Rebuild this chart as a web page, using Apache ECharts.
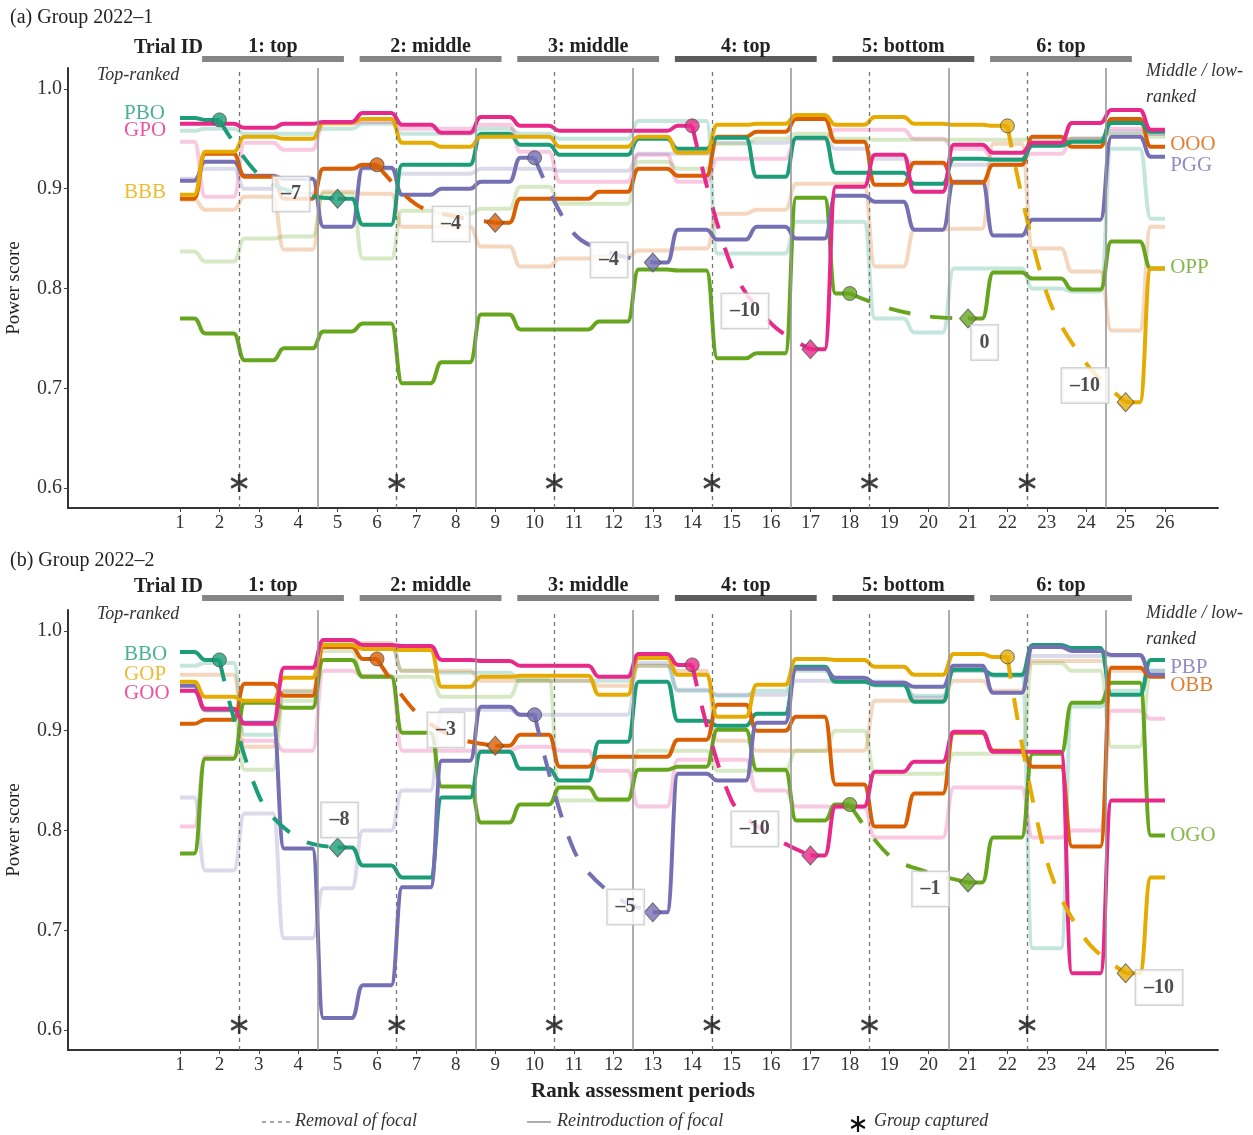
<!DOCTYPE html>
<html><head><meta charset="utf-8">
<script src="https://cdn.jsdelivr.net/npm/echarts@6/dist/echarts.min.js"></script>
<style>html,body{margin:0;padding:0;background:#fff}#c{width:1253px;height:1135px}</style>
</head><body><div id="c"></div>
<script>
// ---------------- DATA ----------------
const periods = [1,2,3,4,5,6,7,8,9,10,11,12,13,14,15,16,17,18,19,20,21,22,23,24,25,26];
const yTicks = [0.6,0.7,0.8,0.9,1.0];
const removalAt = [2.5,6.5,10.5,14.5,18.5,22.5];
const reintroAt = [4.5,8.5,12.5,16.5,20.5,24.5];
const trialLabels = ['1: top','2: middle','3: middle','4: top','5: bottom','6: top'];
const capturedAt = [2.5,6.5,10.5,14.5,18.5,22.5];

// Panel (a) Group 2022-1 : bold individuals (null = focal removed)
const a_PBO = [0.971,0.969,null,null,0.890,0.864,0.924,0.924,0.955,0.944,0.934,0.934,0.950,0.940,0.951,0.912,0.951,0.916,0.916,0.905,0.930,0.929,0.943,0.947,0.966,0.957];
const a_GPO = [0.965,0.965,0.961,0.965,0.967,0.976,0.964,0.956,0.972,0.963,0.958,0.958,0.958,0.963,null,null,0.739,0.902,0.934,0.897,0.944,0.936,0.946,0.966,0.979,0.959];
const a_BBB = [0.894,0.937,0.952,0.950,0.966,0.970,0.946,0.942,0.952,0.952,0.942,0.942,0.952,0.936,0.964,0.965,0.974,0.964,0.972,0.965,0.964,0.963,null,null,0.686,0.820];
const a_OOO = [0.890,0.935,0.912,0.890,0.920,0.924,null,null,0.866,0.890,0.890,0.897,0.920,0.913,0.952,0.957,0.970,0.947,0.904,0.926,0.906,0.924,0.952,0.942,0.970,0.942];
const a_PGG = [0.908,0.927,0.913,0.910,0.862,0.921,0.894,0.900,0.907,0.931,null,null,0.826,0.859,0.849,0.862,0.850,0.893,0.887,0.859,0.907,0.853,0.869,0.869,0.952,0.932];
const a_OPP = [0.770,0.755,0.728,0.740,0.757,0.765,0.705,0.726,0.774,0.759,0.759,0.767,0.819,0.818,0.730,0.735,0.891,0.795,null,null,0.770,0.816,0.810,0.799,0.847,0.820];
// Panel (a) faded lines
const a_fTeal   = [0.958,0.960,0.955,0.955,0.960,0.965,0.955,0.955,0.960,0.955,0.950,0.950,0.968,0.968,0.835,0.835,0.867,0.867,0.770,0.756,0.820,0.820,0.800,0.797,0.940,0.870];
const a_fPink   = [0.947,0.892,0.946,0.939,0.965,0.967,0.960,0.960,0.964,0.937,0.907,0.907,0.934,0.907,0.930,0.930,0.950,0.959,0.959,0.950,0.940,0.930,0.935,0.950,0.960,0.955];
const a_fOrange = [0.889,0.879,0.892,0.839,0.897,0.895,0.862,0.862,0.842,0.822,0.830,0.832,0.838,0.840,0.875,0.879,0.905,0.905,0.822,0.859,0.860,0.945,0.840,0.817,0.758,0.862];
const a_fPurple = [0.910,0.920,0.900,0.895,0.920,0.920,0.915,0.915,0.920,0.920,0.918,0.918,0.935,0.935,0.946,0.946,0.950,0.940,0.930,0.925,0.924,0.924,0.945,0.950,0.957,0.955];
const a_fGreen  = [0.837,0.827,0.850,0.852,0.895,0.830,0.878,0.875,0.880,0.902,0.885,0.885,0.927,0.920,0.945,0.950,0.955,0.950,0.949,0.949,0.949,0.949,0.950,0.950,0.955,0.952];
// Panel (a) focal paths while removed (4 periods from last observation to return)
const a_gap1 = [0.969,0.914,0.895,0.890]; // PBO, from period 2
const a_gap2 = [0.924,0.884,0.872,0.866]; // OOO, from period 6
const a_gap3 = [0.931,0.855,0.835,0.826]; // PGG, from period 10
const a_gap4 = [0.963,0.822,0.765,0.739]; // GPO, from period 14
const a_gap5 = [0.795,0.780,0.772,0.770]; // OPP, from period 18
const a_gap6 = [0.963,0.795,0.725,0.686]; // BBB, from period 22
const a_gapStart = [2,6,10,14,18,22];
const a_rankChange = [-7,-4,-4,-10,0,-10];

// Panel (b) Group 2022-2
const b_BBO = [0.979,0.971,null,null,0.783,0.765,0.753,0.833,0.879,0.862,0.850,0.889,0.949,0.910,0.905,0.917,0.964,0.949,0.946,0.929,0.961,0.956,0.986,0.983,0.936,0.971];
const b_GOP = [0.949,0.934,0.930,0.953,0.986,0.982,0.981,0.944,0.954,0.955,0.955,0.936,0.973,0.956,0.914,0.946,0.972,0.971,0.964,0.956,0.977,0.974,null,null,0.657,0.753];
const b_GOO = [0.940,0.922,0.907,0.963,0.991,0.986,0.985,0.971,0.970,0.965,0.965,0.954,0.977,0.966,null,null,0.775,0.824,0.859,0.869,0.899,0.879,0.879,0.657,0.830,0.830];
const b_OBB = [0.907,0.911,0.947,0.935,0.984,0.972,null,null,0.885,0.896,0.864,0.874,0.874,0.891,0.926,0.900,0.914,0.846,0.804,0.837,0.898,0.880,0.864,0.784,0.963,0.954];
const b_PBP = [0.945,0.921,0.908,0.782,0.612,0.645,0.743,0.870,0.924,0.916,null,null,0.718,0.857,0.850,0.908,0.962,0.953,0.948,0.944,0.965,0.938,0.984,0.980,0.976,0.956];
const b_OGO = [0.777,0.872,0.928,0.923,0.971,0.954,0.898,0.844,0.808,0.826,0.843,0.831,0.861,0.864,0.901,0.861,0.810,0.826,null,null,0.748,0.793,0.877,0.928,0.948,0.795];
const b_fTeal   = [0.965,0.968,0.896,0.939,0.985,0.985,0.960,0.958,0.958,0.950,0.950,0.950,0.965,0.940,0.935,0.940,0.960,0.950,0.945,0.935,0.960,0.955,0.682,0.924,0.940,0.960];
const b_fPink   = [0.804,0.874,0.890,0.880,0.960,0.955,0.880,0.880,0.880,0.884,0.880,0.860,0.824,0.871,0.871,0.840,0.824,0.823,0.793,0.793,0.843,0.843,0.793,0.800,0.920,0.912];
const b_fOrange = [0.956,0.956,0.884,0.940,0.988,0.988,0.960,0.960,0.950,0.950,0.950,0.945,0.965,0.960,0.890,0.880,0.880,0.880,0.930,0.930,0.950,0.940,0.970,0.970,0.960,0.955];
const b_fPurple = [0.833,0.760,0.817,0.692,0.742,0.800,0.840,0.921,0.921,0.916,0.916,0.916,0.968,0.941,0.936,0.936,0.950,0.949,0.949,0.933,0.960,0.955,0.975,0.975,0.975,0.960];
const b_fGreen  = [0.940,0.920,0.861,0.930,0.980,0.954,0.954,0.934,0.934,0.951,0.830,0.830,0.880,0.880,0.860,0.860,0.880,0.900,0.857,0.857,0.877,0.877,0.968,0.960,0.884,0.955];
const b_gap1 = [0.971,0.835,0.792,0.783]; // BBO
const b_gap2 = [0.972,0.918,0.893,0.885]; // OBB
const b_gap3 = [0.916,0.780,0.735,0.718]; // PBP
const b_gap4 = [0.966,0.830,0.795,0.775]; // GOO
const b_gap5 = [0.826,0.775,0.758,0.748]; // OGO
const b_gap6 = [0.974,0.770,0.690,0.657]; // GOP
const b_gapStart = [2,6,10,14,18,22];
const b_rankChange = [-8,-3,-5,-10,-1,-10];

// ---------------- STYLE / LAYOUT ----------------
const FONT = '"Liberation Serif", "DejaVu Serif", serif';
const C = {teal:'#1B9E77', orange:'#D95F02', purple:'#7570B3', pink:'#E7298A', green:'#66A61E', yellow:'#E6AB02'};
const XMIN = -1.843, XMAX = 27.345, YMIN = 0.58, YMAX = 1.021;
const barColors = ['#858585','#858585','#808080','#5c5c5c','#5e5e5e','#858585'];

const panels = [
  {
    inds: [
      {name:'OPP', vals:a_OPP, color:C.green},
      {name:'PGG', vals:a_PGG, color:C.purple},
      {name:'OOO', vals:a_OOO, color:C.orange},
      {name:'PBO', vals:a_PBO, color:C.teal},
      {name:'BBB', vals:a_BBB, color:C.yellow},
      {name:'GPO', vals:a_GPO, color:C.pink}
    ],
    faded: [[a_fTeal,C.teal],[a_fPink,C.pink],[a_fOrange,C.orange],[a_fPurple,C.purple],[a_fGreen,C.green]],
    gaps: [[a_gap1,C.teal],[a_gap2,C.orange],[a_gap3,C.purple],[a_gap4,C.pink],[a_gap5,C.green],[a_gap6,C.yellow]],
    gapStart: a_gapStart, rank: a_rankChange,
    boxPos: [[3.82,0.8947],[7.88,0.8647],[11.89,0.8286],[15.34,0.7774],[21.42,0.7459],[23.97,0.7028]],
    leftLab: [['PBO',C.teal,0.975],['GPO',C.pink,0.958],['BBB',C.yellow,0.896]],
    rightLab: [['OOO',C.orange,0.944],['PGG',C.purple,0.923],['OPP',C.green,0.821]]
  },
  {
    inds: [
      {name:'OGO', vals:b_OGO, color:C.green},
      {name:'BBO', vals:b_BBO, color:C.teal},
      {name:'OBB', vals:b_OBB, color:C.orange},
      {name:'PBP', vals:b_PBP, color:C.purple},
      {name:'GOP', vals:b_GOP, color:C.yellow},
      {name:'GOO', vals:b_GOO, color:C.pink}
    ],
    faded: [[b_fTeal,C.teal],[b_fPink,C.pink],[b_fOrange,C.orange],[b_fPurple,C.purple],[b_fGreen,C.green]],
    gaps: [[b_gap1,C.teal],[b_gap2,C.orange],[b_gap3,C.purple],[b_gap4,C.pink],[b_gap5,C.green],[b_gap6,C.yellow]],
    gapStart: b_gapStart, rank: b_rankChange,
    boxPos: [[5.05,0.8105],[7.75,0.9008],[12.31,0.7233],[15.59,0.8015],[20.05,0.7413],[25.85,0.6426]],
    leftLab: [['BBO',C.teal,0.976],['GOP',C.yellow,0.956],['GOO',C.pink,0.937]],
    rightLab: [['PBP',C.purple,0.963],['OBB',C.orange,0.945],['OGO',C.green,0.795]]
  }
];

// plateau rendering of per-period values (each period held flat, smooth switch at half periods)
function stepPts(vals){
  const W = 0.36, pts = [];
  for (let i = 0; i < vals.length; i++){
    const x = periods[i], v = vals[i];
    if (v == null){ pts.push([x, null]); continue; }
    const hasPrev = i > 0 && vals[i-1] != null;
    const hasNext = i < vals.length-1 && vals[i+1] != null;
    pts.push([hasPrev ? x-W : x, v]);
    pts.push([hasNext ? x+W : x, v]);
  }
  return pts;
}
const fmtRank = v => v < 0 ? '\u2013' + Math.abs(v) : String(v);

const series = [];
panels.forEach((p, g) => {
  series.push({type:'line', xAxisIndex:g, yAxisIndex:g, data:[], silent:true, z:1,
    markLine:{symbol:'none', silent:true, label:{show:false}, animation:false,
      lineStyle:{color:'#777', type:[4,4], width:1.3}, data: removalAt.map(x=>({xAxis:x}))}});
  series.push({type:'line', xAxisIndex:g, yAxisIndex:g, data:[], silent:true, z:1,
    markLine:{symbol:'none', silent:true, label:{show:false}, animation:false,
      lineStyle:{color:'#999', type:'solid', width:1.6}, data: reintroAt.map(x=>({xAxis:x}))}});
  p.faded.forEach(([vals,col]) => series.push({type:'line', xAxisIndex:g, yAxisIndex:g, z:2,
    data: stepPts(vals), smooth:0.5, smoothMonotone:'x', symbol:'none', silent:true,
    lineStyle:{color:col, width:4, opacity:0.26}}));
  p.inds.forEach(ind => series.push({type:'line', xAxisIndex:g, yAxisIndex:g, z:3, name:ind.name,
    data: stepPts(ind.vals), smooth:0.5, smoothMonotone:'x', symbol:'none', silent:true,
    lineStyle:{color:ind.color, width:4}}));
  p.gaps.forEach(([vals,col],k) => {
    const s = p.gapStart[k];
    series.push({type:'line', xAxisIndex:g, yAxisIndex:g, z:4,
      data: vals.map((v,i)=>[s+i, v]), smooth:0.35, symbol:'none', silent:true,
      lineStyle:{color:col, width:4, type:[22,20]}});
    series.push({type:'scatter', xAxisIndex:g, yAxisIndex:g, z:6, symbol:'circle', symbolSize:14,
      itemStyle:{color:col, borderColor:'#555', borderWidth:1}, data:[[s, vals[0]]]});
    series.push({type:'scatter', xAxisIndex:g, yAxisIndex:g, z:6, symbol:'diamond', symbolSize:[17,19],
      itemStyle:{color:col, borderColor:'#555', borderWidth:1}, data:[[s+3, vals[3]]]});
  });
  series.push({type:'scatter', xAxisIndex:g, yAxisIndex:g, z:8, symbolSize:0, silent:true,
    data: p.rank.map((r,k)=>({value:p.boxPos[k], r})),
    label:{show:true, position:'inside', formatter: d => fmtRank(d.data.r),
      fontFamily:FONT, fontWeight:'bold', fontSize:20, color:'#222', backgroundColor:'#fff',
      borderColor:'#c9c9c9', borderWidth:1.5, padding:[7,8,6,8], lineHeight:21}});
  series.push({type:'scatter', xAxisIndex:g, yAxisIndex:g, z:6, silent:true,
    symbol:'path://M0,-10L0,10M-8.66,-5L8.66,5M-8.66,5L8.66,-5', symbolSize:[16,18],
    itemStyle:{color:'none', borderColor:'#111', borderWidth:2.6},
    data: capturedAt.map(x=>[x, 0.605])});
  const labs = p.leftLab.map(([n,c,y])=>({value:[-0.42,y], n, label:{color:c}}))
    .concat(p.rightLab.map(([n,c,y])=>({value:[26.13,y], n, label:{color:c}})));
  series.push({type:'scatter', xAxisIndex:g, yAxisIndex:g, z:7, symbolSize:0, silent:true,
    data: labs,
    label:{show:true, position:'right', distance:0, formatter: d=>d.data.n, fontFamily:FONT, fontSize:21}});
  series.push({type:'custom', xAxisIndex:g, yAxisIndex:g, z:5, clip:false, silent:true,
    data: removalAt.map((r,k)=>[r-0.94, r+2.66, k]),
    renderItem: (params, api) => {
      const k = api.value(2);
      const yb = g === 0 ? 1.030 : 1.033;
      const s = api.coord([api.value(0), yb]), e = api.coord([api.value(1), yb]);
      return {type:'group', children:[
        {type:'rect', shape:{x:s[0], y:s[1]-3, width:e[0]-s[0], height:6}, style:{fill:barColors[k]}},
        {type:'text', x:(s[0]+e[0])/2, y:s[1]-2, style:{text:trialLabels[k], align:'center', verticalAlign:'bottom',
          fontFamily:FONT, fontWeight:'bold', fontSize:20, fill:'#222'}}
      ]};
    }});
});

const T = (x, y, text, extra) => Object.assign({type:'text', x, y,
  style:Object.assign({text, verticalAlign:'middle', fontFamily:FONT, fontSize:18, fill:'#333'}, extra||{})});
const option = {
  animation:false,
  textStyle:{fontFamily:FONT},
  grid:[{left:68, top:68, width:1150, height:440, outerBoundsMode:'none', containLabel:false},
        {left:68, top:610, width:1150, height:440, outerBoundsMode:'none', containLabel:false}],
  xAxis:[0,1].map(g => ({type:'value', gridIndex:g, min:XMIN, max:XMAX,
    axisLine:{show:true, onZero:false, lineStyle:{color:'#333', width:2}},
    axisTick:{show:true, customValues:periods, length:4, lineStyle:{color:'#444'}},
    axisLabel:{customValues:periods, fontSize:19, color:'#333', margin:6, fontFamily:FONT},
    splitLine:{show:false},
    name: g === 1 ? 'Rank assessment periods' : '', nameLocation:'middle', nameGap:31,
    nameTextStyle:{fontSize:21, fontWeight:'bold', color:'#222', fontFamily:FONT}})),
  yAxis:[0,1].map(g => ({type:'value', gridIndex:g, min:YMIN, max:YMAX,
    axisLine:{show:true, onZero:false, lineStyle:{color:'#333', width:2}},
    axisTick:{show:true, customValues:yTicks, length:4, lineStyle:{color:'#444'}},
    axisLabel:{customValues:yTicks, fontSize:20, color:'#333', margin:6, fontFamily:FONT, formatter:v=>v.toFixed(1)},
    splitLine:{show:false},
    name:'Power score', nameLocation:'middle', nameGap:44, nameRotate:90,
    nameTextStyle:{fontSize:19, color:'#222', fontFamily:FONT}})),
  graphic:[
    T(10, 18, '(a) Group 2022\u20131', {fontSize:20, fill:'#222'}),
    T(10, 561, '(b) Group 2022\u20132', {fontSize:20, fill:'#222'}),
    T(203, 48, 'Trial ID', {align:'right', fontWeight:'bold', fontSize:20, fill:'#222'}),
    T(203, 587, 'Trial ID', {align:'right', fontWeight:'bold', fontSize:20, fill:'#222'}),
    T(97, 75, 'Top-ranked', {fontStyle:'italic'}),
    T(97, 614, 'Top-ranked', {fontStyle:'italic'}),
    T(1146, 71, 'Middle / low-', {fontStyle:'italic'}),
    T(1146, 97, 'ranked', {fontStyle:'italic'}),
    T(1146, 613, 'Middle / low-', {fontStyle:'italic'}),
    T(1146, 639, 'ranked', {fontStyle:'italic'}),
    {type:'line', shape:{x1:262, y1:1122, x2:290, y2:1122}, style:{stroke:'#777', lineWidth:1.3, lineDash:[4,4]}},
    T(295, 1121, 'Removal of focal', {fontStyle:'italic'}),
    {type:'line', shape:{x1:527, y1:1122, x2:551, y2:1122}, style:{stroke:'#999', lineWidth:1.6}},
    T(557, 1121, 'Reintroduction of focal', {fontStyle:'italic'}),
    {type:'line', shape:{x1:858, y1:1116, x2:858, y2:1132}, style:{stroke:'#111', lineWidth:2.2}},
    {type:'line', shape:{x1:851.1, y1:1120, x2:864.9, y2:1128}, style:{stroke:'#111', lineWidth:2.2}},
    {type:'line', shape:{x1:851.1, y1:1128, x2:864.9, y2:1120}, style:{stroke:'#111', lineWidth:2.2}},
    T(874, 1121, 'Group captured', {fontStyle:'italic'})
  ],
  series
};
const chart = echarts.init(document.getElementById('c'), null, {renderer:'canvas'});
chart.setOption(option);
</script>
</body></html>
